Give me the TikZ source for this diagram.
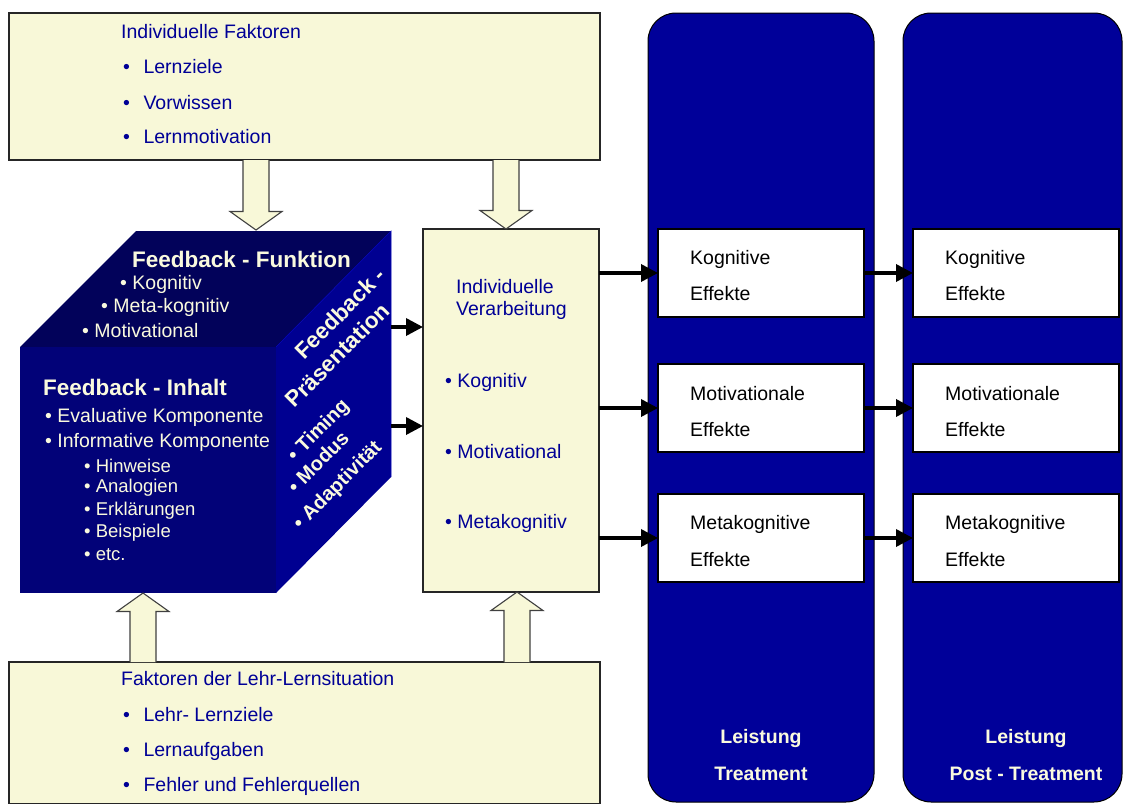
\documentclass[tikz,border=0pt]{standalone}
\usepackage{fontspec}
\setmainfont{Liberation Sans}
\usetikzlibrary{arrows.meta,calc}
\definecolor{cream}{RGB}{248,248,216}
\definecolor{txtblue}{RGB}{0,0,150}
\definecolor{colblue}{RGB}{0,0,153}
\definecolor{cubetop}{RGB}{2,2,90}
\definecolor{cubefront}{RGB}{2,2,120}
\definecolor{cuberight}{RGB}{0,0,145}
\definecolor{cubetext}{RGB}{250,250,222}
\tikzset{
  yellowbox/.style={draw=black!85, fill=cream, line width=1.2pt, inner sep=0pt, outer sep=0pt, anchor=north west},
  effbox/.style={draw=black, fill=white, line width=1.3pt, inner sep=0pt, outer sep=0pt, anchor=north west, minimum width=206, minimum height=88},
  colrect/.style={draw=black, fill=colblue, line width=1pt, rounded corners=28pt, inner sep=0pt, outer sep=0pt, anchor=north west},
  bluetext/.style={anchor=west, inner sep=0pt, text=txtblue, font=\fontsize{19.5}{23}\selectfont},
  blacktext/.style={anchor=west, inner sep=0pt, text=black, font=\fontsize{19.5}{23}\selectfont},
  cubehead/.style={anchor=west, inner sep=0pt, text=cubetext, font=\bfseries\fontsize{22.5}{26}\selectfont},
  cubeitem/.style={anchor=west, inner sep=0pt, text=cubetext, font=\fontsize{19.5}{23}\selectfont},
  cubesub/.style={anchor=west, inner sep=0pt, text=cubetext, font=\fontsize{18.5}{22}\selectfont},
  sidehead/.style={inner sep=0pt, rotate=45, text=cubetext, font=\bfseries\fontsize{22.5}{26}\selectfont},
  sideitem/.style={inner sep=0pt, rotate=45, text=cubetext, font=\bfseries\fontsize{20}{24}\selectfont},
  leistung/.style={inner sep=0pt, text=cubetext, font=\bfseries\fontsize{19.5}{23}\selectfont},
  conn/.style={line width=3.5pt, -{Triangle[length=17pt,width=17pt]}},
  blockarrow/.style={draw=black!75, fill=cream, line width=1.1pt, line join=miter},
}
\newcommand\blockdown[2]{\filldraw[blockarrow] let \p1=(#1),\p2=(#2) in
  (\x1-13pt,\y1) -- (\x1-13pt,\y2+18.5pt) -- (\x1-26pt,\y2+18.5pt) -- (\x2,\y2)
  -- (\x1+26pt,\y2+18.5pt) -- (\x1+13pt,\y2+18.5pt) -- (\x1+13pt,\y1);}
\newcommand\blockup[2]{\filldraw[blockarrow] let \p1=(#1),\p2=(#2) in
  (\x1-13pt,\y1) -- (\x1-13pt,\y2-18.5pt) -- (\x1-26pt,\y2-18.5pt) -- (\x2,\y2)
  -- (\x1+26pt,\y2-18.5pt) -- (\x1+13pt,\y2-18.5pt) -- (\x1+13pt,\y1);}
\begin{document}
\begin{tikzpicture}[x=1pt,y=-1pt]
\useasboundingbox (0,0) rectangle (1124,803);
\fill[white] (0,0) rectangle (1124,803);

% tall rounded columns
\node[colrect, minimum width=226, minimum height=789] (treat) at (648,13) {};
\node[colrect, minimum width=219, minimum height=789] (post) at (903,13) {};
\node[leistung] (l1) at (761,738) {Leistung};
\node[leistung] (l2) at (761,774) {Treatment};
\node[leistung] (l3) at (1026,738) {Leistung};
\node[leistung] (l4) at (1026,774) {Post - Treatment};

% yellow boxes
\node[yellowbox, minimum width=591, minimum height=147] (indiv) at (9,13) {};
\node[bluetext] (t1) at (121,32) {Individuelle Faktoren};
\node[bluetext] (t2) at (123,67) {\textbullet\hspace{13.5pt}Lernziele};
\node[bluetext] (t3) at (123,103) {\textbullet\hspace{13.5pt}Vorwissen};
\node[bluetext] (t4) at (123,137) {\textbullet\hspace{13.5pt}Lernmotivation};

\node[yellowbox, minimum width=591, minimum height=142] (situ) at (9,662) {};
\node[bluetext] (s1) at (121,679) {Faktoren der Lehr-Lernsituation};
\node[bluetext] (s2) at (123,715) {\textbullet\hspace{13.5pt}Lehr- Lernziele};
\node[bluetext] (s3) at (123,751) {\textbullet\hspace{13.5pt}Lernaufgaben};
\node[bluetext] (s4) at (123,786) {\textbullet\hspace{13.5pt}Fehler und Fehlerquellen};

\node[yellowbox, minimum width=176, minimum height=363] (proc) at (423,229) {};
\node[bluetext] (p1) at (456,287) {Individuelle};
\node[bluetext] (p2) at (456,310) {Verarbeitung};
\node[bluetext] (p3) at (445,382) {\textbullet\ Kognitiv};
\node[bluetext] (p4) at (445,452) {\textbullet\ Motivational};
\node[bluetext] (p5) at (445,523) {\textbullet\ Metakognitiv};

% cube
\coordinate (F1) at (20,347);
\coordinate (F2) at (276,347);
\coordinate (F3) at (276,593);
\coordinate (F4) at (20,593);
\coordinate (B1) at (136,231);
\coordinate (B2) at (391,231);
\coordinate (B3) at (391,477);
\fill[cubetop] (F1) -- (B1) -- (B2) -- (F2) -- cycle;
\fill[cuberight] (F2) -- (B2) -- (B3) -- (F3) -- cycle;
\fill[cubefront] (F1) -- (F2) -- (F3) -- (F4) -- cycle;
\draw[blue!55!cubetop, line width=0.6pt] (F2) -- (B2) -- (B3);

\node[cubehead] (fh) at (132,259) {Feedback - Funktion};
\node[cubeitem] (f1) at (120,284) {\textbullet\ Kognitiv};
\node[cubeitem] (f2) at (101,307) {\textbullet\ Meta-kognitiv};
\node[cubeitem] (f3) at (82,331) {\textbullet\ Motivational};

\node[cubehead] (ih) at (43,387) {Feedback - Inhalt};
\node[cubeitem] (i1) at (45,417) {\textbullet\ Evaluative Komponente};
\node[cubeitem] (i2) at (45,442) {\textbullet\ Informative Komponente};
\node[cubesub] (i3) at (84,466) {\textbullet\ Hinweise};
\node[cubesub] (i4) at (84,488) {\textbullet\ Analogien};
\node[cubesub] (i5) at (84,511) {\textbullet\ Erklärungen};
\node[cubesub] (i6) at (84,533) {\textbullet\ Beispiele};
\node[cubesub] (i7) at (84,555) {\textbullet\ etc.};

\node[sidehead] (ph1) at (340,313) {Feedback -};
\node[sidehead] (ph2) at (337,355) {Präsentation};
\node[sideitem] (pr1) at (319,431) {\textbullet\ Timing};
\node[sideitem] (pr2) at (318,462) {\textbullet\ Modus};
\node[sideitem] (pr3) at (338,486) {\textbullet\ Adaptivität};

% effect boxes
\node[effbox] (e1) at (658,229) {};
\node[effbox] (e2) at (658,364) {};
\node[effbox] (e3) at (658,494) {};
\node[effbox] (r1) at (913,229) {};
\node[effbox] (r2) at (913,364) {};
\node[effbox] (r3) at (913,494) {};
\node[blacktext] (e1a) at (690,259) {Kognitive};
\node[blacktext] (e1b) at (690,294) {Effekte};
\node[blacktext] (e2a) at (690,394) {Motivationale};
\node[blacktext] (e2b) at (690,430) {Effekte};
\node[blacktext] (e3a) at (690,524) {Metakognitive};
\node[blacktext] (e3b) at (690,560) {Effekte};
\node[blacktext] (r1a) at (945,259) {Kognitive};
\node[blacktext] (r1b) at (945,294) {Effekte};
\node[blacktext] (r2a) at (945,394) {Motivationale};
\node[blacktext] (r2b) at (945,430) {Effekte};
\node[blacktext] (r3a) at (945,524) {Metakognitive};
\node[blacktext] (r3b) at (945,560) {Effekte};

% block arrows
\coordinate (a1s) at (256,160);
\coordinate (a1t) at (256,230);
\coordinate (a2s) at (506,160);
\coordinate (a2t) at (506,229);
\coordinate (a3s) at (143,662);
\coordinate (a3t) at (143,593);
\coordinate (a4s) at (517,662);
\coordinate (a4t) at (517,592);
\blockdown{a1s}{a1t}
\blockdown{a2s}{a2t}
\blockup{a3s}{a3t}
\blockup{a4s}{a4t}

% connectors
\coordinate (c1) at (391,327);
\coordinate (c2) at (391,426);
\draw[conn] (c1) -- (c1 -| proc.west);
\draw[conn] (c2) -- (c2 -| proc.west);
\draw[conn] (e1.west -| proc.east) -- (e1.west);
\draw[conn] (e2.west -| proc.east) -- (e2.west);
\draw[conn] (e3.west -| proc.east) -- (e3.west);
\draw[conn] (e1.east) -- (r1.west);
\draw[conn] (e2.east) -- (r2.west);
\draw[conn] (e3.east) -- (r3.west);
\end{tikzpicture}
\end{document}
